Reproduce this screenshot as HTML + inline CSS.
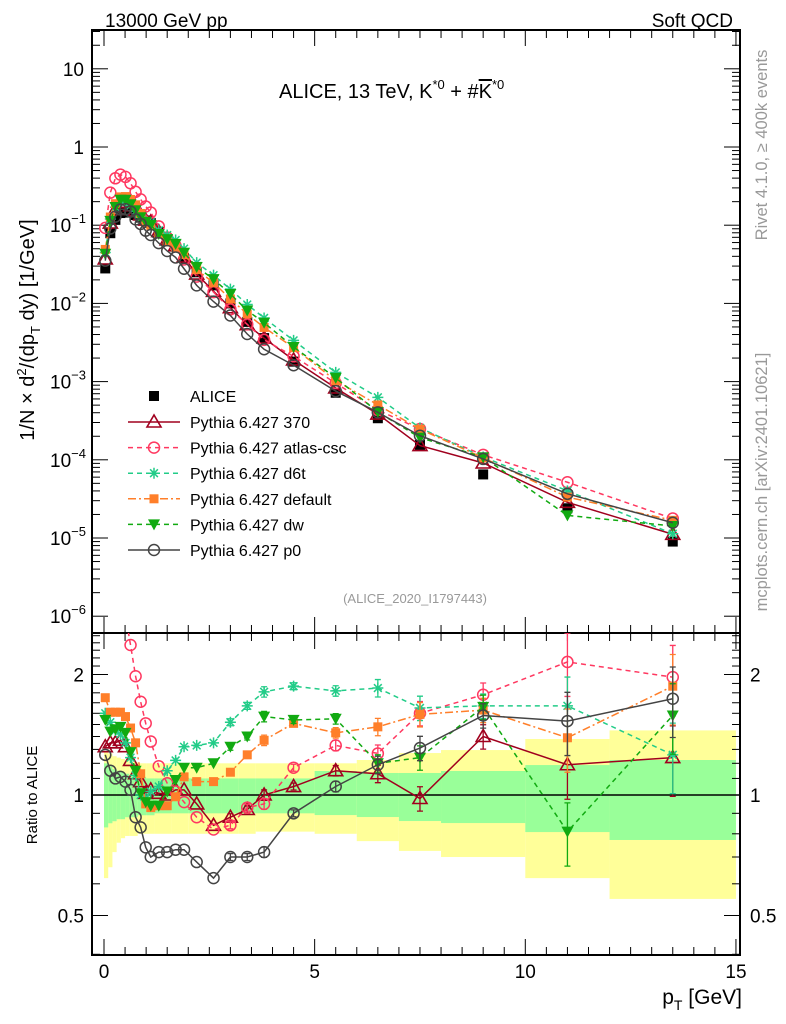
<!DOCTYPE html>
<html><head><meta charset="utf-8">
<style>
body{margin:0;background:#fff;}
svg{display:block;font-family:"Liberation Sans",Arial,sans-serif;}
</style></head>
<body>
<svg id="chart" width="786" height="1024" viewBox="0 0 786 1024" xmlns="http://www.w3.org/2000/svg">
<rect width="786" height="1024" fill="#fff"/>
<text x="105" y="27" font-size="19">13000 GeV pp</text>
<text x="733" y="27" font-size="19" text-anchor="end">Soft QCD</text>
<text x="279" y="98" font-size="20">ALICE, 13 TeV, K<tspan dy="-9" font-size="13">*0</tspan><tspan dy="9"> + #</tspan><tspan text-decoration="overline">K</tspan><tspan dy="-9" font-size="13">*0</tspan></text>
<text transform="translate(767,145) rotate(-90)" font-size="16.5" fill="#999" text-anchor="middle">Rivet 4.1.0, ≥ 400k events</text>
<text transform="translate(767,482) rotate(-90)" font-size="16.5" fill="#999" text-anchor="middle">mcplots.cern.ch [arXiv:2401.10621]</text>
<text x="415" y="603" font-size="13" fill="#999" text-anchor="middle">(ALICE_2020_I1797443)</text>
<text transform="translate(34,330) rotate(-90)" font-size="20" text-anchor="middle">1/N × d<tspan dy="-8" font-size="13">2</tspan><tspan dy="8">/(dp</tspan><tspan dy="6" font-size="13">T</tspan><tspan dy="-6"> dy) [1/GeV]</tspan></text>
<text transform="translate(37,795) rotate(-90)" font-size="15" text-anchor="middle">Ratio to ALICE</text>
<text x="742" y="1004" font-size="21" text-anchor="end">p<tspan dy="6" font-size="14">T</tspan><tspan dy="-6"> [GeV]</tspan></text>
<g id="bands"></g>
<g id="axes"></g>
<g id="series"></g>
<g id="legend"></g>
</svg>
<script>
const pT=[0.03,0.15,0.27,0.39,0.51,0.63,0.75,0.87,0.99,1.11,1.3,1.5,1.7,1.9,2.2,2.6,3.0,3.4,3.8,4.5,5.5,6.5,7.5,9,11,13.5];
const alice=[0.028,0.079,0.117,0.143,0.148,0.145,0.135,0.125,0.115,0.107,0.082,0.065,0.053,0.038,0.025,0.017,0.010,0.0058,0.0036,0.0018,7.2e-4,3.4e-4,1.55e-4,6.5e-5,2.4e-5,9e-6];
const r370=[1.32,1.35,1.35,1.37,1.32,1.22,1.13,1.08,1.01,1.03,1.01,1.0,1.03,1.03,0.95,0.84,0.88,0.92,1.0,1.05,1.15,1.13,0.98,1.40,1.19,1.24];
const rAtlas=[3.3,3.3,3.4,3.1,2.8,2.37,1.98,1.71,1.51,1.36,1.18,1.07,1.02,0.96,0.88,0.82,0.84,0.93,0.95,1.17,1.33,1.27,1.60,1.78,2.15,1.97];
const rD6t=[1.60,1.52,1.45,1.42,1.35,1.24,1.12,1.0,0.98,1.02,1.05,1.15,1.22,1.32,1.33,1.35,1.52,1.67,1.81,1.87,1.82,1.85,1.65,1.67,1.67,1.26];
const rDefault=[1.75,1.61,1.61,1.61,1.57,1.47,1.35,1.13,0.95,0.93,0.94,0.94,0.99,1.11,1.08,1.08,1.14,1.26,1.37,1.51,1.43,1.48,1.59,1.63,1.39,1.87];
const rDw=[1.54,1.44,1.46,1.48,1.43,1.28,1.15,1.01,0.96,0.94,0.94,1.02,1.09,1.17,1.17,1.20,1.32,1.40,1.57,1.54,1.55,1.20,1.24,1.66,0.81,1.58];
const rP0=[1.26,1.15,1.10,1.11,1.08,1.03,0.88,0.83,0.74,0.70,0.72,0.72,0.73,0.73,0.68,0.62,0.70,0.70,0.72,0.90,1.05,1.19,1.31,1.58,1.53,1.74];
const relErr=[0.01,0.01,0.01,0.01,0.01,0.01,0.01,0.01,0.01,0.01,0.01,0.01,0.01,0.01,0.01,0.01,0.02,0.02,0.03,0.02,0.03,0.05,0.07,0.07,0.18,0.2];
const bandEdges=[0,0.1,0.2,0.3,0.4,0.5,0.6,0.8,1.0,1.2,1.6,2.0,2.4,2.8,3.2,3.6,4.0,5,6,7,8,10,12,15];
const gTop=[1.20,1.18,1.16,1.15,1.14,1.13,1.12,1.11,1.10,1.10,1.10,1.10,1.10,1.10,1.10,1.10,1.10,1.148,1.135,1.135,1.148,1.188,1.223];
const gBot=[0.83,0.85,0.86,0.87,0.87,0.88,0.88,0.89,0.89,0.90,0.90,0.90,0.90,0.90,0.90,0.90,0.90,0.891,0.881,0.861,0.851,0.808,0.772];
const yTop=[1.28,1.27,1.25,1.24,1.23,1.22,1.21,1.2,1.2,1.2,1.2,1.2,1.2,1.2,1.2,1.2,1.2,1.20,1.223,1.273,1.295,1.38,1.45];
const yBot=[0.62,0.66,0.72,0.76,0.78,0.79,0.79,0.80,0.80,0.80,0.80,0.80,0.80,0.80,0.80,0.81,0.81,0.80,0.767,0.725,0.70,0.62,0.55];
const xTicks=[0,5,10,15];

const NS='http://www.w3.org/2000/svg';
const L=92,R=740,MT=30,MB=633,RT=633,RB=955;
const X=p=>104+p*42.13;
const Ym=v=>147-78.2*Math.log10(v);
const Yr=r=>795-120.5*Math.log2(r);
function mk(tag,attrs,parent){const e=document.createElementNS(NS,tag);for(const k in attrs)e.setAttribute(k,attrs[k]);parent.appendChild(e);return e;}
const svg=document.getElementById('chart');
const defs=mk('defs',{},svg);
const cpM=mk('clipPath',{id:'cm'},defs);mk('rect',{x:L,y:MT,width:R-L,height:MB-MT},cpM);
const cpR=mk('clipPath',{id:'cr'},defs);mk('rect',{x:L,y:RT,width:R-L,height:RB-RT},cpR);

const bands=document.getElementById('bands');
bands.setAttribute('clip-path','url(#cr)');
for(let i=0;i<gTop.length;i++){
  const x0=X(bandEdges[i]),x1=X(bandEdges[i+1]);
  const yb=mk('rect',{x:x0,y:Yr(yTop[i]),width:x1-x0,height:Yr(yBot[i])-Yr(yTop[i]),fill:'#ffff99'},bands);
  
  
}
for(let i=0;i<gTop.length;i++){
  const x0=X(bandEdges[i]),x1=X(bandEdges[i+1]);
  const gb=mk('rect',{x:x0,y:Yr(gTop[i]),width:x1-x0,height:Yr(gBot[i])-Yr(gTop[i]),fill:'#99ff99'},bands);
  
  
}

const ax=document.getElementById('axes');
function line(x1,y1,x2,y2,w,name){const l=mk('line',{x1,y1,x2,y2,stroke:'#000','stroke-width':w||1},ax);return l;}
mk('line',{x1:L,y1:795,x2:R,y2:795,stroke:'#000','stroke-width':1.5},ax);
const fm=mk('rect',{x:L,y:MT,width:R-L,height:MB-MT,fill:'none',stroke:'#000','stroke-width':2},ax);

const fr=mk('rect',{x:L,y:RT,width:R-L,height:RB-RT,fill:'none',stroke:'#000','stroke-width':2},ax);

for(let p=0;p<=15.001;p+=0.5){
  const x=X(p),maj=Math.abs(p-Math.round(p/5)*5)<1e-6;const h=maj?16:8;
  line(x,MB,x,MB-h);line(x,MT,x,MT+h);line(x,RB,x,RB-h);line(x,RT,x,RT+h);
}
xTicks.forEach(v=>{const t=mk('text',{x:X(v),y:978,'font-size':19,'text-anchor':'middle'},ax);t.textContent=v;});
for(let e=-6;e<=1;e++){
  for(let m=1;m<10;m++){const v=m*Math.pow(10,e);const y=Ym(v);if(y<MT||y>MB)continue;const h=m===1?16:8;line(L,y,L+h,y);line(R,y,R-h,y);}
  const y=Ym(Math.pow(10,e));
  const t=mk('text',{x:84,y:y+7,'font-size':19,'text-anchor':'end'},ax);
  
  if(e===0)t.textContent='1';else if(e===1)t.textContent='10';
  else{const a=document.createElementNS(NS,'tspan');a.textContent='10';t.appendChild(a);const b=document.createElementNS(NS,'tspan');b.setAttribute('dy','-9');b.setAttribute('font-size','13');b.textContent='−'+(-e);t.appendChild(b);t.setAttribute('x',86);}
}
for(let k=4;k<=25;k++){const r=k/10;const y=Yr(r);if(y<RT||y>RB)continue;const maj=(k===5||k===10||k===20);const h=maj?16:8;line(L,y,L+h,y);line(R,y,R-h,y);}
[[2,'2'],[1,'1'],[0.5,'0.5']].forEach(([r,s])=>{
  const t=mk('text',{x:84,y:Yr(r)+7,'font-size':19,'text-anchor':'end'},ax);t.textContent=s;
  const t2=mk('text',{x:750,y:Yr(r)+7,'font-size':19},ax);t2.textContent=s;
});

function marker(g,type,x,y,c){
  let e;
  if(type==='sq'){e=mk('rect',{x:x-5,y:y-5,width:10,height:10,fill:c},g);}
  else if(type==='sqs'){e=mk('rect',{x:x-4.5,y:y-4.5,width:9,height:9,fill:c},g);}
  else if(type==='tri'){e=mk('polygon',{points:`${x},${y-7} ${x-7},${y+5} ${x+7},${y+5}`,fill:'none',stroke:c,'stroke-width':1.6},g);}
  else if(type==='dtri'){e=mk('polygon',{points:`${x-6},${y-5} ${x+6},${y-5} ${x},${y+6}`,fill:c},g);}
  else if(type==='circ'){e=mk('circle',{cx:x,cy:y,r:5.5,fill:'none',stroke:c,'stroke-width':1.5},g);}
  else {let d='';for(let a=0;a<4;a++){const t=a*Math.PI/4;d+=`M${x-5.5*Math.cos(t)} ${y-5.5*Math.sin(t)}L${x+5.5*Math.cos(t)} ${y+5.5*Math.sin(t)}`;}
    e=mk('path',{d,stroke:c,'stroke-width':1.5,fill:'none'},g);}
  
  return e;
}
const series=[
  {name:'370',label:'Pythia 6.427 370',r:r370,c:'#a0001e',dash:'',m:'tri'},
  {name:'atlas-csc',label:'Pythia 6.427 atlas-csc',r:rAtlas,c:'#ff3860',dash:'5,4',m:'circ'},
  {name:'d6t',label:'Pythia 6.427 d6t',r:rD6t,c:'#22cc88',dash:'5,4',m:'star'},
  {name:'default',label:'Pythia 6.427 default',r:rDefault,c:'#ff7f2a',dash:'8,3,2,3',m:'sqs'},
  {name:'dw',label:'Pythia 6.427 dw',r:rDw,c:'#11aa11',dash:'5,4',m:'dtri'},
  {name:'p0',label:'Pythia 6.427 p0',r:rP0,c:'#444444',dash:'',m:'circ'}
];
const sg=document.getElementById('series');
const ga=mk('g',{'clip-path':'url(#cm)'},sg);

alice.forEach((v,i)=>marker(ga,'sq',X(pT[i]),Ym(v),'#000'));
series.forEach(s=>{
  const gm=mk('g',{'clip-path':'url(#cm)'},sg);
  
  const pts=s.r.map((r,i)=>[X(pT[i]),Ym(alice[i]*r)]);
  mk('polyline',{points:pts.map(p=>p.join(',')).join(' '),fill:'none',stroke:s.c,'stroke-width':1.5,'stroke-dasharray':s.dash},gm);
  pts.forEach(p=>marker(gm,s.m,p[0],p[1],s.c));
  const gr=mk('g',{'clip-path':'url(#cr)'},sg);
  
  const rp=s.r.map((r,i)=>[X(pT[i]),Yr(r)]);
  mk('polyline',{points:rp.map(p=>p.join(',')).join(' '),fill:'none',stroke:s.c,'stroke-width':1.5,'stroke-dasharray':s.dash},gr);
  s.r.forEach((r,i)=>{const e=relErr[i];if(e<0.015)return;const x=X(pT[i]);const y1=Yr(r*(1+e)),y2=Yr(r*(1-e));
    mk('path',{d:`M${x} ${y1}L${x} ${y2}M${x-3} ${y1}L${x+3} ${y1}M${x-3} ${y2}L${x+3} ${y2}`,stroke:s.c,'stroke-width':1.3,fill:'none'},gr);});
  rp.forEach(p=>marker(gr,s.m,p[0],p[1],s.c));
});
const lg=document.getElementById('legend');
const le=mk('g',{},lg);
marker(le,'sq',154,396,'#000');
mk('text',{x:190,y:402,'font-size':16},le).textContent='ALICE';
series.forEach((s,k)=>{
  const y=422+k*25.6;
  const g=mk('g',{},lg);
  
  
  mk('line',{x1:128,y1:y,x2:180,y2:y,stroke:s.c,'stroke-width':1.5,'stroke-dasharray':s.dash},g);
  marker(g,s.m,154,y,s.c);
  mk('text',{x:190,y:y+6,'font-size':16},g).textContent=s.label;
});
</script>
</body></html>
